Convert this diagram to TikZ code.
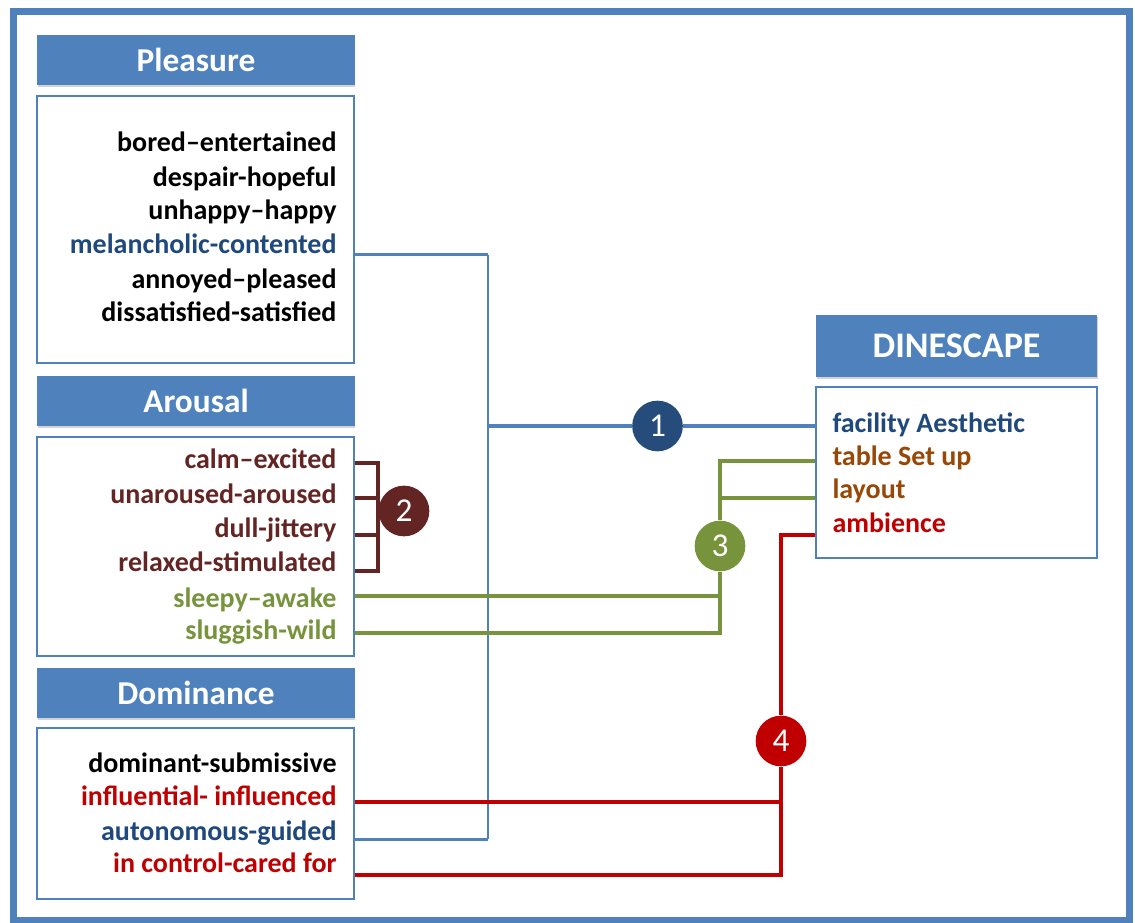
\documentclass[tikz,border=0pt]{standalone}
\usepackage{fontspec}
\setmainfont{Carlito}
\usetikzlibrary{shadows,calc}

\definecolor{hdrblue}{RGB}{79,129,189}
\definecolor{cNavy}{RGB}{31,73,125}
\definecolor{cMaroon}{RGB}{99,37,35}
\definecolor{cOlive}{RGB}{119,147,60}
\definecolor{cCrimson}{RGB}{192,0,0}
\definecolor{cRust}{RGB}{152,72,6}
\definecolor{cKnob}{RGB}{38,76,124}

\tikzset{every picture/.style={line width=0.75pt}}
\tikzset{
  hdr/.style={fill=hdrblue, text=white, font=\fontsize{25}{25}\selectfont\bfseries,
    minimum width=238pt, minimum height=37.5pt, inner sep=0pt,
    drop shadow={shadow xshift=0.6pt, shadow yshift=-1.2pt, opacity=0.35}},
  panel/.style={draw=hdrblue, line width=1.5pt, fill=white, minimum width=237.75pt, inner sep=0pt},
  item/.style={anchor=base east, inner sep=0pt, font=\fontsize{21}{21}\selectfont\bfseries},
  ditem/.style={anchor=base west, inner sep=0pt, font=\fontsize{21}{21}\selectfont\bfseries},
  knob/.style={circle, minimum size=38pt, inner sep=0pt, text=white, font=\fontsize{25}{25}\selectfont},
  wire/.style={line width=3pt},
}

\begin{document}
\begin{tikzpicture}[x=0.75pt,y=0.75pt,yscale=-1,xscale=1]
\useasboundingbox (0,0) rectangle (1135,923);

%Shape: outer frame
\draw [color=hdrblue, line width=5.25pt] (13.5,12) rectangle (1129,920.5);

%Shape: Pleasure
\node [hdr] (pHdr) at (196,60) {Pleasure};
\node [panel, minimum height=200.25pt] (pBox) at (195.5,229.5) {};
% Text Node
\node [item] (bored) at (337,152) {bored–entertained};
\node [item] (despair) at (337,187) {despair-hopeful};
\node [item] (unhappy) at (337,220) {unhappy–happy};
\node [item, text=cNavy] (melan) at (337,254) {melancholic-contented};
\node [item] (annoyed) at (337,289) {annoyed–pleased};
\node [item] (dissat) at (337,322) {dissatisfied-satisfied};

%Shape: Arousal
\node [hdr] (aHdr) at (196,401) {Arousal};
\node [panel, minimum height=164.25pt] (aBox) at (195.5,546.5) {};
% Text Node
\node [item, text=cMaroon] (calm) at (337,468) {calm–excited};
\node [item, text=cMaroon] (unar) at (337,503) {unaroused-aroused};
\node [item, text=cMaroon] (dull) at (337,537) {dull-jittery};
\node [item, text=cMaroon] (relax) at (337,571) {relaxed-stimulated};
\node [item, text=cOlive] (sleepy) at (337,607) {sleepy–awake};
\node [item, text=cOlive] (slug) at (337,639) {sluggish-wild};

%Shape: Dominance
\node [hdr] (dHdr) at (196,693) {Dominance};
\node [panel, minimum height=128.25pt] (dBox) at (195.5,813) {};
% Text Node
\node [item] (domin) at (337,772) {dominant-submissive};
\node [item, text=cCrimson] (influ) at (337,805) {influential- influenced};
\node [item, text=cNavy] (auton) at (337,840) {autonomous-guided};
\node [item, text=cCrimson] (control) at (337,872) {in control-cared for};

%Shape: DINESCAPE
\node [hdr, minimum width=210.75pt, minimum height=46.5pt, font=\fontsize{27}{27}\selectfont\bfseries] (dsHdr) at (956.5,346) {DINESCAPE};
\node [panel, minimum width=210.75pt, minimum height=128.25pt] (dsBox) at (956.5,472.5) {};
% Text Node
\node [ditem, text=cNavy] (facil) at (832,432) {facility Aesthetic};
\node [ditem, text=cRust] (table) at (832,465) {table Set up};
\node [ditem, text=cRust] (layout) at (832,498) {layout};
\node [ditem, text=cCrimson] (amb) at (832,532) {ambience};

%Shape: numbered knobs
\node [knob, fill=cKnob] (c1) at (657.5,426) {1};
\node [knob, fill=cMaroon] (c2) at (404,511) {2};
\node [knob, fill=cOlive] (c3) at (720,546) {3};
\node [knob, fill=cCrimson] (c4) at (781,741) {4};

% attach points on the panel edges
\coordinate (melanR) at ($(pBox.east |- melan.base)+(0,1)$);
\coordinate (calmR) at ($(aBox.east |- calm.base)+(0,-5)$);
\coordinate (unarR) at ($(aBox.east |- unar.base)+(0,-5)$);
\coordinate (dullR) at ($(aBox.east |- dull.base)+(0,-2)$);
\coordinate (relaxR) at (aBox.east |- relax.base);
\coordinate (sleepyR) at ($(aBox.east |- sleepy.base)+(0,-11)$);
\coordinate (slugR) at ($(aBox.east |- slug.base)+(0,-6)$);
\coordinate (influR) at ($(dBox.east |- influ.base)+(0,-3)$);
\coordinate (autonR) at ($(dBox.east |- auton.base)+(0,-1)$);
\coordinate (controlR) at ($(dBox.east |- control.base)+(0,3)$);
\coordinate (facilL) at ($(dsBox.west |- facil.base)+(0,-6)$);
\coordinate (tableL) at ($(dsBox.west |- table.base)+(0,-4)$);
\coordinate (layoutL) at (dsBox.west |- layout.base);
\coordinate (ambL) at ($(dsBox.west |- amb.base)+(0,3)$);
\coordinate (blueRail) at (488,426);

%Straight Lines: 1
\draw [color=hdrblue, line width=1.2pt] (melanR -| blueRail) -- (autonR -| blueRail);
\draw [wire, color=hdrblue, line width=2.25pt] (melanR) -- (melanR -| blueRail);
\draw [wire, color=hdrblue, line width=2.25pt] (autonR) -- (autonR -| blueRail);
\draw [wire, color=hdrblue] (blueRail) -- (c1);
\draw [wire, color=hdrblue] (c1) -- (facilL);
%Straight Lines: 2
\draw [wire, color=cMaroon] (calmR) -| (c2.west |- relaxR) -- (relaxR);
\draw [wire, color=cMaroon] (unarR) -- (unarR -| c2.west);
\draw [wire, color=cMaroon] (dullR) -- (dullR -| c2.west);
%Straight Lines: 3
\draw [wire, color=cOlive] (sleepyR) -| (c3);
\draw [wire, color=cOlive] (slugR) -| (c3);
\draw [wire, color=cOlive] (c3) |- (tableL);
\draw [wire, color=cOlive] (c3) |- (layoutL);
%Straight Lines: 4
\draw [wire, color=cCrimson] (influR) -| (c4);
\draw [wire, color=cCrimson] (controlR) -| (c4);
\draw [wire, color=cCrimson] (c4) |- (ambL);

\end{tikzpicture}
\end{document}
